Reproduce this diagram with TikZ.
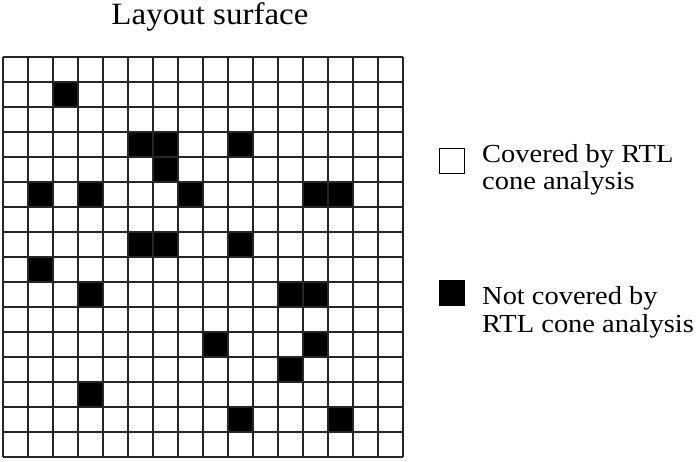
\documentclass[tikz,border=0pt]{standalone}
\usepackage{fontspec}
\setmainfont{Liberation Serif}
\newfontfamily\legfont[FakeStretch=1.095]{Liberation Serif}
\newfontfamily\titfont[FakeStretch=1.065]{Liberation Serif}
\begin{document}
\begin{tikzpicture}[x=1pt,y=-1pt,
  gridline/.style={line width=1.5pt,draw=black!85},
  blackcell/.style={fill=black},
  legbox/.style={draw=black,line width=1.2pt,minimum width=25pt,minimum height=25pt,inner sep=0pt,anchor=north west},
  legtext/.style={anchor=base west,inner sep=0pt,font=\legfont\fontsize{26}{27}\selectfont},
  titletext/.style={anchor=base,inner sep=0pt,font=\titfont\fontsize{31}{36}\selectfont}]
\useasboundingbox (0,0) rectangle (697,462);
% black cells (col,row)
\foreach \c/\r in {2/1, 5/3,6/3,9/3, 6/4, 1/5,3/5,7/5,12/5,13/5, 5/7,6/7,9/7, 1/8, 3/9,11/9,12/9, 8/11,12/11, 11/12, 3/13, 9/14,13/14}
  \fill[blackcell] ({3+25*\c},{57+25*\r}) rectangle ++(25,25);
% grid
\foreach \i in {0,...,16} {
  \draw[gridline] ({3+25*\i},57) -- ({3+25*\i},457);
  \draw[gridline] (3,{57+25*\i}) -- (403,{57+25*\i});
}
\node[titletext] (title) at (210,25) {Layout surface};
\node[legbox,fill=white] (box1) at (439,148) {};
\node[legbox,fill=black] (box2) at (439,280) {};
\node[legtext] (t1a) at (482,163) {Covered by RTL};
\node[legtext] (t1b) at (482,190) {cone analysis};
\node[legtext] (t2a) at (482,305) {Not covered by};
\node[legtext] (t2b) at (482,333) {RTL cone analysis};
\end{tikzpicture}
\end{document}
